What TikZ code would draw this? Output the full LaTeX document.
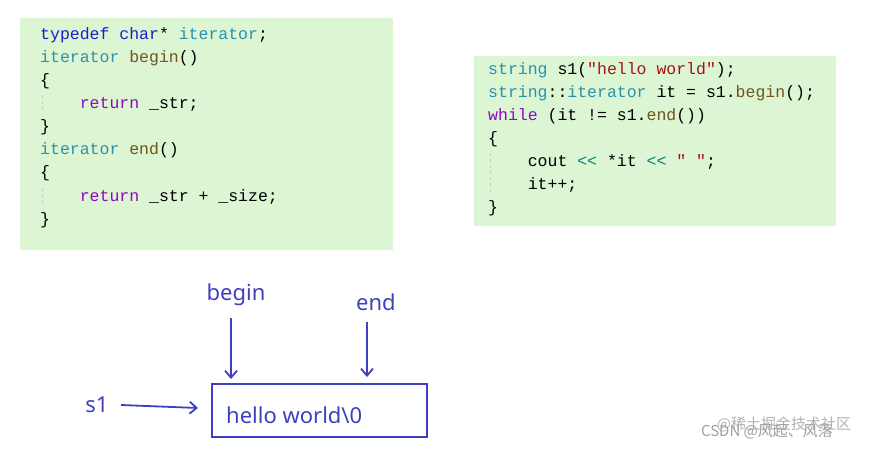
\documentclass[tikz,border=0pt]{standalone}
\usetikzlibrary{arrows.meta}
\usepackage{fontspec}
\setmainfont{Liberation Sans}
\setsansfont{Noto Sans}
\setmonofont{Liberation Mono}
\newfontfamily\cjk{Noto Sans CJK SC}
\definecolor{bg}{HTML}{DCF5D2}
\definecolor{kw}{HTML}{1E1EC8}
\definecolor{ty}{HTML}{2B91AF}
\definecolor{fn}{HTML}{74531F}
\definecolor{pu}{HTML}{8F08C4}
\definecolor{st}{HTML}{A31515}
\definecolor{op}{HTML}{008080}
\definecolor{ink}{HTML}{3F3FBF}
\begin{document}
\begin{tikzpicture}[x=1pt,y=-1pt,
  code/.style={anchor=west,inner sep=0pt,font=\fontsize{16.5}{18}\ttfamily},
  hand/.style={inner sep=0pt,text=ink,font=\fontsize{22}{24}\sffamily},
  arr/.style={draw=ink,line width=1.8pt,-{Straight Barb[length=7pt,width=12pt,line width=1.8pt]}}]
\useasboundingbox (0,0) rectangle (880,450);
\fill[bg] (20,18) rectangle (393,250);
\fill[bg] (474,56) rectangle (836,226);
\draw[gray!40,dashed] (42,95)--(42,113) (42,188)--(42,206) (490,153)--(490,194);
% left code
\node[code] (l1) at (40,35) {\textcolor{kw}{typedef} \textcolor{kw}{char}* \textcolor{ty}{iterator};};
\node[code] (l2) at (40,58) {\textcolor{ty}{iterator} \textcolor{fn}{begin}()};
\node[code] (l3) at (40,81) {\{};
\node[code] (l4) at (40,104) {\ \ \ \ \textcolor{pu}{return} \_str;};
\node[code] (l5) at (40,127) {\}};
\node[code] (l6) at (40,150) {\textcolor{ty}{iterator} \textcolor{fn}{end}()};
\node[code] (l7) at (40,173) {\{};
\node[code] (l8) at (40,197) {\ \ \ \ \textcolor{pu}{return} \_str + \_size;};
\node[code] (l9) at (40,220) {\}};
% right code
\node[code] (r1) at (488,70) {\textcolor{ty}{string} s1(\textcolor{st}{"hello world"});};
\node[code] (r2) at (488,93) {\textcolor{ty}{string}::\textcolor{ty}{iterator} it = s1.\textcolor{fn}{begin}();};
\node[code] (r3) at (488,116) {\textcolor{pu}{while} (it != s1.\textcolor{fn}{end}())};
\node[code] (r4) at (488,139) {\{};
\node[code] (r5) at (488,162) {\ \ \ \ cout \textcolor{op}{<<} *it \textcolor{op}{<<} \textcolor{st}{" "};};
\node[code] (r6) at (488,185) {\ \ \ \ it++;};
\node[code] (r7) at (488,208) {\}};
% diagram
\node[hand] (begin) at (236,295) {begin};
\node[hand] (end) at (376,302) {end};
\node[hand] (s1) at (97,405) {s1};
\node[draw=ink,line width=1.8pt,minimum width=215pt,minimum height=53pt,inner sep=0pt] (box) at (319.5,410.5) {};
\node[hand,anchor=west] (hw) at (226,415) {hello world\textbackslash 0};
\coordinate (bt) at (231,379);
\coordinate (et) at (367,377);
\coordinate (st) at (198,408);
\draw[arr] (231,318) -- (bt);
\draw[arr] (367,322) -- (et);
\draw[arr] (121,405) -- (st);
% watermark
\node[inner sep=0pt,text=gray!60,font=\fontsize{15}{16}\cjk] (wm1) at (784,424) {@稀土掘金技术社区};
\node[inner sep=0pt,text=gray!75,font=\fontsize{15}{16}\cjk] (wm2) at (767,431) {CSDN @风起、风落};
\end{tikzpicture}
\end{document}
